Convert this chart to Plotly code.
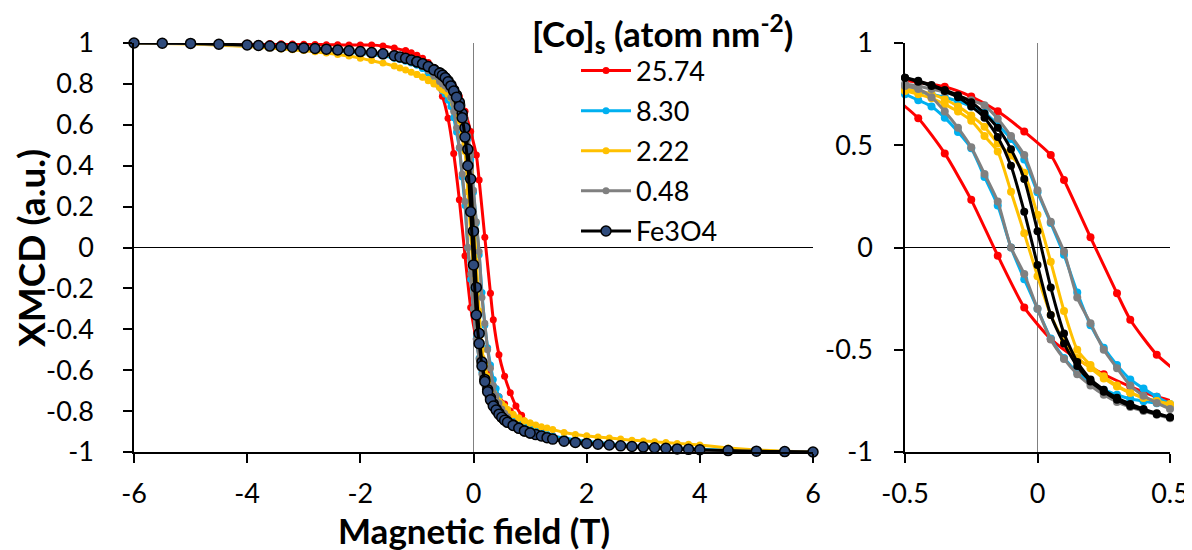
import plotly.graph_objects as go

# ---------------- data ----------------
SERIES_NAMES = ["25.74", "8.30", "2.22", "0.48", "Fe3O4"]
SERIES_COLORS = ["#FF0000", "#00B0F0", "#FFC000", "#808080", "#000000"]

# field grid of the ascending branch (T)
FIELD = [-6, -5.5, -5, -4.5, -4, -3.8, -3.6, -3.4, -3.2, -3.0, -2.8, -2.6, -2.4, -2.2, -2.0,
         -1.8, -1.6, -1.4, -1.3, -1.2, -1.1, -1.0, -0.9, -0.8, -0.7, -0.6,
         -0.55, -0.5, -0.45, -0.4, -0.35, -0.3, -0.25, -0.2, -0.15, -0.1, -0.05, 0.0,
         0.05, 0.1, 0.15, 0.2, 0.25, 0.3, 0.35, 0.4, 0.45, 0.5, 0.55,
         0.6, 0.7, 0.8, 0.9, 1.0, 1.1, 1.2, 1.3, 1.4, 1.6, 1.8, 2.0, 2.2, 2.4, 2.6, 2.8,
         3.0, 3.2, 3.4, 3.6, 3.8, 4.0, 4.5, 5.0, 5.5, 6.0]
# field grid of the descending branch where it differs from the ascending one
FIELD_DOWN = [-1.0, -0.9, -0.8, -0.7, -0.6, -0.55, -0.5, -0.45, -0.4, -0.35, -0.3, -0.25,
              -0.2, -0.15, -0.1, -0.05, 0.0, 0.05, 0.1, 0.15, 0.2, 0.25, 0.3, 0.35, 0.4,
              0.45, 0.5, 0.55, 0.6, 0.7, 0.8, 0.9, 1.0]

RED_FIELD_UP = [-6, -5.5, -5, -4.5, -4, -3.8, -3.6, -3.4, -3.2, -3.0, -2.8, -2.6, -2.4, -2.2,
                -2.0, -1.8, -1.6, -1.4, -1.2, -1.1, -1.0, -0.9, -0.8, -0.7, -0.6, -0.5,
                -0.45, -0.35, -0.25, -0.15, -0.05, 0.05, 0.1, 0.2, 0.3, 0.35, 0.45, 0.55,
                0.65, 0.75, 0.85, 1.0, 1.2, 1.4, 1.6, 1.8, 2.0, 2.2, 2.4, 2.6, 2.8, 3.0,
                3.2, 3.4, 3.6, 3.8, 4.0, 4.5, 5.0, 5.5, 6.0]
RED_UP = [1.0, 1.0, 1.0, 1.0, 0.999, 0.998, 0.997, 0.996, 0.995, 0.994, 0.993, 0.992, 0.991,
          0.99, 0.99, 0.99, 0.985, 0.975, 0.962, 0.952, 0.94, 0.925, 0.905, 0.88, 0.85,
          0.818, 0.808, 0.786, 0.738, 0.666, 0.567, 0.452, 0.33, 0.05, -0.224, -0.353,
          -0.524, -0.63, -0.71, -0.775, -0.82, -0.87, -0.9, -0.92, -0.935, -0.945, -0.953,
          -0.96, -0.965, -0.97, -0.974, -0.977, -0.98, -0.983, -0.986, -0.988, -0.991,
          -0.995, -0.997, -0.999, -1.0]
RED_FIELD_DOWN = [-1.2, -1.0, -0.85, -0.75, -0.65, -0.55, -0.45, -0.35, -0.25, -0.15, -0.05,
                  0.05, 0.15, 0.25, 0.35, 0.45, 0.55, 0.65, 0.8, 1.0]
RED_DOWN = [0.962, 0.935, 0.895, 0.855, 0.8, 0.74, 0.632, 0.46, 0.233, -0.04, -0.293,
            -0.447, -0.545, -0.62, -0.68, -0.73, -0.765, -0.8, -0.84, -0.87]

BLUE_UP = [1.0, 0.999, 0.997, 0.993, 0.988, 0.985, 0.982, 0.979, 0.975, 0.972, 0.968, 0.964,
           0.96, 0.955, 0.95, 0.944, 0.936, 0.926, 0.919, 0.911, 0.902, 0.892, 0.878, 0.86,
           0.835, 0.795,
           0.782, 0.77, 0.76, 0.75, 0.735, 0.715, 0.69, 0.66, 0.6, 0.53, 0.43, 0.27, 0.12,
           -0.035, -0.22, -0.38, -0.49, -0.575, -0.645, -0.69, -0.73, -0.765, -0.785,
           -0.805, -0.835, -0.857, -0.873, -0.886, -0.896, -0.905, -0.913, -0.92, -0.932,
           -0.941, -0.948, -0.954, -0.959, -0.964, -0.968, -0.972, -0.975, -0.978, -0.981,
           -0.984, -0.986, -0.991, -0.995, -0.998, -1.0]
BLUE_DOWN = [0.892, 0.875, 0.852, 0.822, 0.785, 0.767, 0.75, 0.72, 0.69, 0.635, 0.565, 0.485,
             0.345, 0.205, 0.0, -0.155, -0.3, -0.445, -0.54, -0.61, -0.66, -0.695, -0.72,
             -0.74, -0.752, -0.762, -0.772, -0.785, -0.8, -0.83, -0.855, -0.872, -0.886]

YELLOW_UP = [1.0, 0.998, 0.995, 0.989, 0.983, 0.979, 0.975, 0.971, 0.967, 0.963, 0.957, 0.951,
             0.944, 0.936, 0.926, 0.914, 0.902, 0.887, 0.878, 0.868, 0.857, 0.846, 0.834,
             0.821, 0.806, 0.789,
             0.781, 0.775, 0.765, 0.75, 0.725, 0.69, 0.645, 0.59, 0.51, 0.45, 0.365, 0.16,
             -0.07, -0.31, -0.5, -0.575, -0.63, -0.675, -0.71, -0.735, -0.752, -0.77, -0.785,
             -0.798, -0.818, -0.835, -0.848, -0.858, -0.868, -0.876, -0.883, -0.89, -0.905,
             -0.914, -0.921, -0.927, -0.932, -0.937, -0.942, -0.946, -0.95, -0.954, -0.958,
             -0.962, -0.966, -0.98, -0.99, -0.996, -1.0]
YELLOW_DOWN = [0.846, 0.832, 0.816, 0.8, 0.782, 0.772, 0.765, 0.75, 0.73, 0.7, 0.665, 0.62,
               0.545, 0.47, 0.273, 0.07, -0.14, -0.33, -0.46, -0.54, -0.59, -0.64, -0.68,
               -0.71, -0.735, -0.75, -0.765, -0.778, -0.792, -0.815, -0.833, -0.847, -0.858]

GRAY_UP = [1.0, 0.999, 0.997, 0.993, 0.988, 0.986, 0.983, 0.98, 0.977, 0.973, 0.97, 0.966,
           0.962, 0.958, 0.954, 0.949, 0.943, 0.934, 0.928, 0.92, 0.911, 0.9, 0.887, 0.87,
           0.85, 0.826,
           0.812, 0.8, 0.79, 0.775, 0.76, 0.74, 0.72, 0.695, 0.63, 0.545, 0.452, 0.28, 0.126,
           -0.02, -0.245, -0.37, -0.5, -0.59, -0.675, -0.725, -0.76, -0.79, -0.81,
           -0.828, -0.855, -0.875, -0.892, -0.905, -0.914, -0.922, -0.93, -0.938, -0.949,
           -0.956, -0.961, -0.966, -0.97, -0.973, -0.976, -0.979, -0.982, -0.985, -0.987,
           -0.989, -0.991, -0.995, -0.997, -0.999, -1.0]
GRAY_DOWN = [0.9, 0.885, 0.865, 0.84, 0.812, 0.8, 0.79, 0.775, 0.735, 0.665, 0.585, 0.49,
             0.36, 0.225, 0.0, -0.13, -0.3, -0.45, -0.545, -0.62, -0.675, -0.72, -0.755,
             -0.78, -0.8, -0.818, -0.835, -0.845, -0.855, -0.87, -0.885, -0.896, -0.905]

FE_UP = [1.0, 0.999, 0.998, 0.994, 0.99, 0.988, 0.985, 0.982, 0.979, 0.976, 0.973, 0.97,
         0.966, 0.962, 0.958, 0.953, 0.947, 0.938, 0.932, 0.925, 0.917, 0.908, 0.898, 0.885,
         0.87, 0.855,
         0.845, 0.83, 0.815, 0.795, 0.77, 0.745, 0.71, 0.655, 0.585, 0.48, 0.335, 0.08,
         -0.195, -0.42, -0.56, -0.645, -0.695, -0.735, -0.765, -0.79, -0.81, -0.83, -0.842,
         -0.852, -0.868, -0.883, -0.897, -0.907, -0.915, -0.922, -0.93, -0.937, -0.947,
         -0.953, -0.958, -0.962, -0.966, -0.97, -0.973, -0.976, -0.979, -0.982, -0.985,
         -0.987, -0.989, -0.993, -0.996, -0.998, -1.0]
FE_DOWN = [0.908, 0.898, 0.885, 0.868, 0.852, 0.842, 0.83, 0.81, 0.79, 0.765, 0.735, 0.69,
           0.635, 0.54, 0.4, 0.175, -0.085, -0.33, -0.47, -0.58, -0.655, -0.705, -0.745,
           -0.775, -0.795, -0.815, -0.83, -0.845, -0.855, -0.87, -0.884, -0.897, -0.907]

LEFT_X_TICKS = [-6, -4, -2, 0, 2, 4, 6]
LEFT_Y_TICKS = [-1, -0.8, -0.6, -0.4, -0.2, 0, 0.2, 0.4, 0.6, 0.8, 1]
RIGHT_X_TICKS = [-0.5, 0, 0.5]
RIGHT_Y_TICKS = [-1, -0.5, 0, 0.5, 1]

X_TITLE = "Magnetic field (T)"
Y_TITLE = "XMCD (a.u.)"
LEGEND_TITLE = "<b>[Co]<sub>s</sub> (atom nm<sup>-2</sup>)</b>"

FE_MARKER_FILL = "#2F4B7C"
FONT = "Lato"

# ---------------- figure ----------------
series = [
    (SERIES_NAMES[0], SERIES_COLORS[0], RED_FIELD_UP, RED_UP, RED_FIELD_DOWN, RED_DOWN),
    (SERIES_NAMES[1], SERIES_COLORS[1], FIELD, BLUE_UP, FIELD_DOWN, BLUE_DOWN),
    (SERIES_NAMES[2], SERIES_COLORS[2], FIELD, YELLOW_UP, FIELD_DOWN, YELLOW_DOWN),
    (SERIES_NAMES[3], SERIES_COLORS[3], FIELD, GRAY_UP, FIELD_DOWN, GRAY_DOWN),
    (SERIES_NAMES[4], SERIES_COLORS[4], FIELD, FE_UP, FIELD_DOWN, FE_DOWN),
]


def label(v):
    return f"{v:g}"


fig = go.Figure()
for idx, (name, color, xu, yu, xd, yd) in enumerate(series):
    is_fe = name == "Fe3O4"
    if is_fe:
        mk_left = dict(size=10, color=FE_MARKER_FILL, line=dict(color="black", width=1.5))
    else:
        mk_left = dict(size=7, color=color, line=dict(width=0))
    for k, (xs, ys) in enumerate([(xu, yu), (xd, yd)]):
        fig.add_trace(go.Scatter(
            x=xs, y=ys, mode="lines+markers", name=name, legendgroup=name,
            showlegend=(k == 0),
            line=dict(color=color, width=3, shape="spline", smoothing=0.6),
            marker=mk_left, cliponaxis=False, xaxis="x", yaxis="y"))
    for xs, ys in [(xu, yu), (xd, yd)]:
        if idx == 0:
            px, py, clip = list(xs), list(ys), True
        else:
            pairs = [(a, b) for a, b in zip(xs, ys) if -0.5 - 1e-9 <= a <= 0.5 + 1e-9]
            px, py, clip = [p[0] for p in pairs], [p[1] for p in pairs], False
        fig.add_trace(go.Scatter(
            x=px, y=py, mode="lines+markers", name=name, legendgroup=name,
            showlegend=False,
            line=dict(color=color, width=3, shape="spline", smoothing=0.6),
            marker=dict(size=8, color=color, line=dict(width=0)),
            cliponaxis=clip, xaxis="x2", yaxis="y2"))

# page geometry (the page body adds an 8 px offset)
OFF = 8
W, H = 1192 - OFF, 550 - OFF
P_LEFT, P_RIGHT, P_TOP, P_BOTTOM = 134, 1170, 43, 452
PW = P_RIGHT - P_LEFT
PH = P_BOTTOM - P_TOP
L = P_LEFT - OFF
T = P_TOP - OFF
R = (OFF + W) - P_RIGHT
B = (OFF + H) - P_BOTTOM


def pxx(px):
    return (px - P_LEFT) / PW


def pxy(py):
    return (P_BOTTOM - py) / PH


axis_common = dict(
    showline=True, linecolor="black", linewidth=1.5, mirror=False,
    ticks="outside", ticklen=9, tickwidth=1.5, tickcolor="black",
    showgrid=False, tickfont=dict(family=FONT, size=27, color="black"),
    automargin=False, fixedrange=True,
)

fig.update_layout(
    width=W, height=H,
    margin=dict(l=L, r=R, t=T, b=B, autoexpand=False),
    paper_bgcolor="white", plot_bgcolor="white",
    font=dict(family=FONT, color="black"),
    xaxis=dict(domain=[0, pxx(813)], range=[-6, 6], anchor="y",
               tickvals=LEFT_X_TICKS, ticktext=[label(v) for v in LEFT_X_TICKS],
               zeroline=True, zerolinecolor="#808080", zerolinewidth=1,
               ticklabelstandoff=8, **axis_common),
    yaxis=dict(domain=[0, 1], range=[-1, 1], anchor="x",
               tickvals=LEFT_Y_TICKS, ticktext=[label(v) for v in LEFT_Y_TICKS],
               zeroline=True, zerolinecolor="black", zerolinewidth=1,
               ticklabelstandoff=24, **axis_common),
    xaxis2=dict(domain=[pxx(905), 1], range=[-0.5, 0.5], anchor="y2",
                tickvals=RIGHT_X_TICKS, ticktext=[label(v) for v in RIGHT_X_TICKS],
                zeroline=True, zerolinecolor="#808080", zerolinewidth=1,
                ticklabelstandoff=8, **axis_common),
    yaxis2=dict(domain=[0, 1], range=[-1, 1], anchor="x2",
                tickvals=RIGHT_Y_TICKS, ticktext=[label(v) for v in RIGHT_Y_TICKS],
                zeroline=True, zerolinecolor="black", zerolinewidth=1,
                ticklabelstandoff=16, **axis_common),
    legend=dict(
        x=pxx(530), y=pxy(1), xanchor="left", yanchor="top",
        font=dict(family=FONT, size=27, color="black"),
        title=dict(text=LEGEND_TITLE, font=dict(family=FONT, size=35, color="black"), side="top"),
        indentation=46, itemwidth=50, tracegroupgap=2,
        bgcolor="rgba(0,0,0,0)", borderwidth=0,
    ),
    annotations=[
        dict(text=f"<b>{X_TITLE}</b>", xref="paper", yref="paper",
             x=pxx(473.5), y=pxy(530), xanchor="center", yanchor="middle",
             showarrow=False, font=dict(family=FONT, size=35, color="black")),
        dict(text=f"<b>{Y_TITLE}</b>", xref="paper", yref="paper",
             x=pxx(31), y=pxy(248), xanchor="center", yanchor="middle",
             textangle=-90, showarrow=False, font=dict(family=FONT, size=37, color="black")),
    ],
)

fig.write_html("out.html")
